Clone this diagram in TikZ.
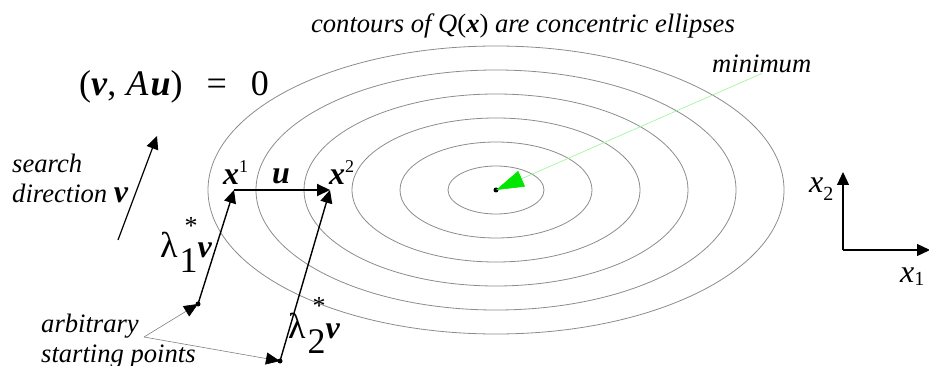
\documentclass[tikz,border=0pt]{standalone}
\usepackage{fontspec}
\setmainfont{Liberation Serif}
\usetikzlibrary{arrows.meta}
\definecolor{cring}{HTML}{8C8C8C}
\definecolor{cmin}{RGB}{0,230,0}
\definecolor{cminl}{RGB}{150,245,150}
\newcommand{\fsize}[1]{\fontsize{#1}{#1}\selectfont}
\newcommand{\bv}[1]{\textbf{\textit{#1}}}
\newcommand{\lamlbl}[1]{\fsize{36}λ\hspace{2pt}\raisebox{-15pt}{#1}\llap{\raisebox{24pt}{\fsize{26}*}}{\fsize{32}\bv{v}}}
\tikzset{
  every picture/.style={x=1pt, y=-1pt, >={Triangle[length=13pt,width=12pt]}},
  lbl/.style={inner sep=0pt, anchor=base west, font=\fsize{26.6}\itshape},
  sym/.style={inner sep=0pt, anchor=base west, font=\fsize{32}},
  ring/.style={cring, line width=0.8pt},
  vec/.style={->, line width=1.4pt},
  leader/.style={gray, line width=0.6pt, -{Triangle[length=14pt,width=12pt,color=black]}},
  ptdot/.style={circle, fill, inner sep=0pt, minimum size=5pt},
}

\begin{document}
\begin{tikzpicture}
  \useasboundingbox (0,0) rectangle (929,366);
  % contours of Q
  \coordinate (ctr) at (496,190);
  \foreach \k in {1,...,6}
    \draw[ring] (ctr) ellipse [x radius=\k*48pt, y radius=\k*24pt];
  \node[ptdot] (mindot) at (ctr) {};
  \node[lbl, anchor=base] (title) at (523,33) {contours of \textit{Q}\textup{(}\bv{x}\textup{)} are concentric ellipses};
  \node[lbl] (minlbl) at (712,73) {minimum};
  \draw[cminl, line width=0.6pt, -{Triangle[length=28pt,width=17pt,color=cmin]}] (minlbl.south) -- (mindot.center);
  % conjugacy condition
  \node[sym, font=\fsize{36}] (eq) at (79,96) {(\bv{v},\hspace{10pt}\textit{A}\hspace{2pt}\bv{u})\hspace{24pt}=\hspace{24pt}0};
  % search direction
  \node[lbl] (search) at (12,173) {search};
  \node[lbl] (dirn) at (12,203) {direction {\fsize{32}\upshape\bv{v}}};
  \coordinate (vtail) at (118,240);
  \coordinate (vhead) at (157,136);
  \draw[vec, line width=1.2pt] (vtail) -- (vhead);
  % line searches from two starting points
  \node[ptdot] (sa) at (198,304) {};
  \node[ptdot] (sb) at (280,361) {};
  \coordinate (xa) at (234,190);
  \coordinate (xb) at (330,190);
  \draw[vec] (sa.center) -- (xa);
  \draw[vec] (sb.center) -- (xb);
  \draw[vec, line width=2pt] (xa) -- (xb);
  \node[sym] (xalbl) at (223,185) {\bv{x}\raisebox{12pt}{\fsize{18}1}};
  \node[sym] (ulbl) at (272,184) {\bv{u}};
  \node[sym] (xblbl) at (329,185) {\bv{x}\raisebox{12pt}{\fsize{18}2}};
  \node[sym] (lama) at (160,258) {\lamlbl{1}};
  \node[sym] (lamb) at (288,338) {\lamlbl{2}};
  \node[lbl] (arb) at (41,332) {arbitrary};
  \node[lbl] (start) at (41,362) {starting points};
  \coordinate (fork) at (144,337);
  \draw[leader] (fork) -- (sa.center);
  \draw[leader] (fork) -- (sb.center);
  % axes
  \coordinate (org) at (843,250);
  \coordinate (ytip) at (843,172);
  \coordinate (xtip) at (930,250);
  \draw[vec, line width=1.2pt] (org) -- (ytip);
  \draw[vec, line width=1.2pt] (org) -- (xtip);
  \node[sym, font=\fsize{32}\itshape] (xtwo) at (809,193) {x\raisebox{-8pt}{\fsize{20}\upshape 2}};
  \node[sym, font=\fsize{32}\itshape] (xone) at (900,282) {x\raisebox{-3pt}{\fsize{20}\upshape 1}};
\end{tikzpicture}
\end{document}
